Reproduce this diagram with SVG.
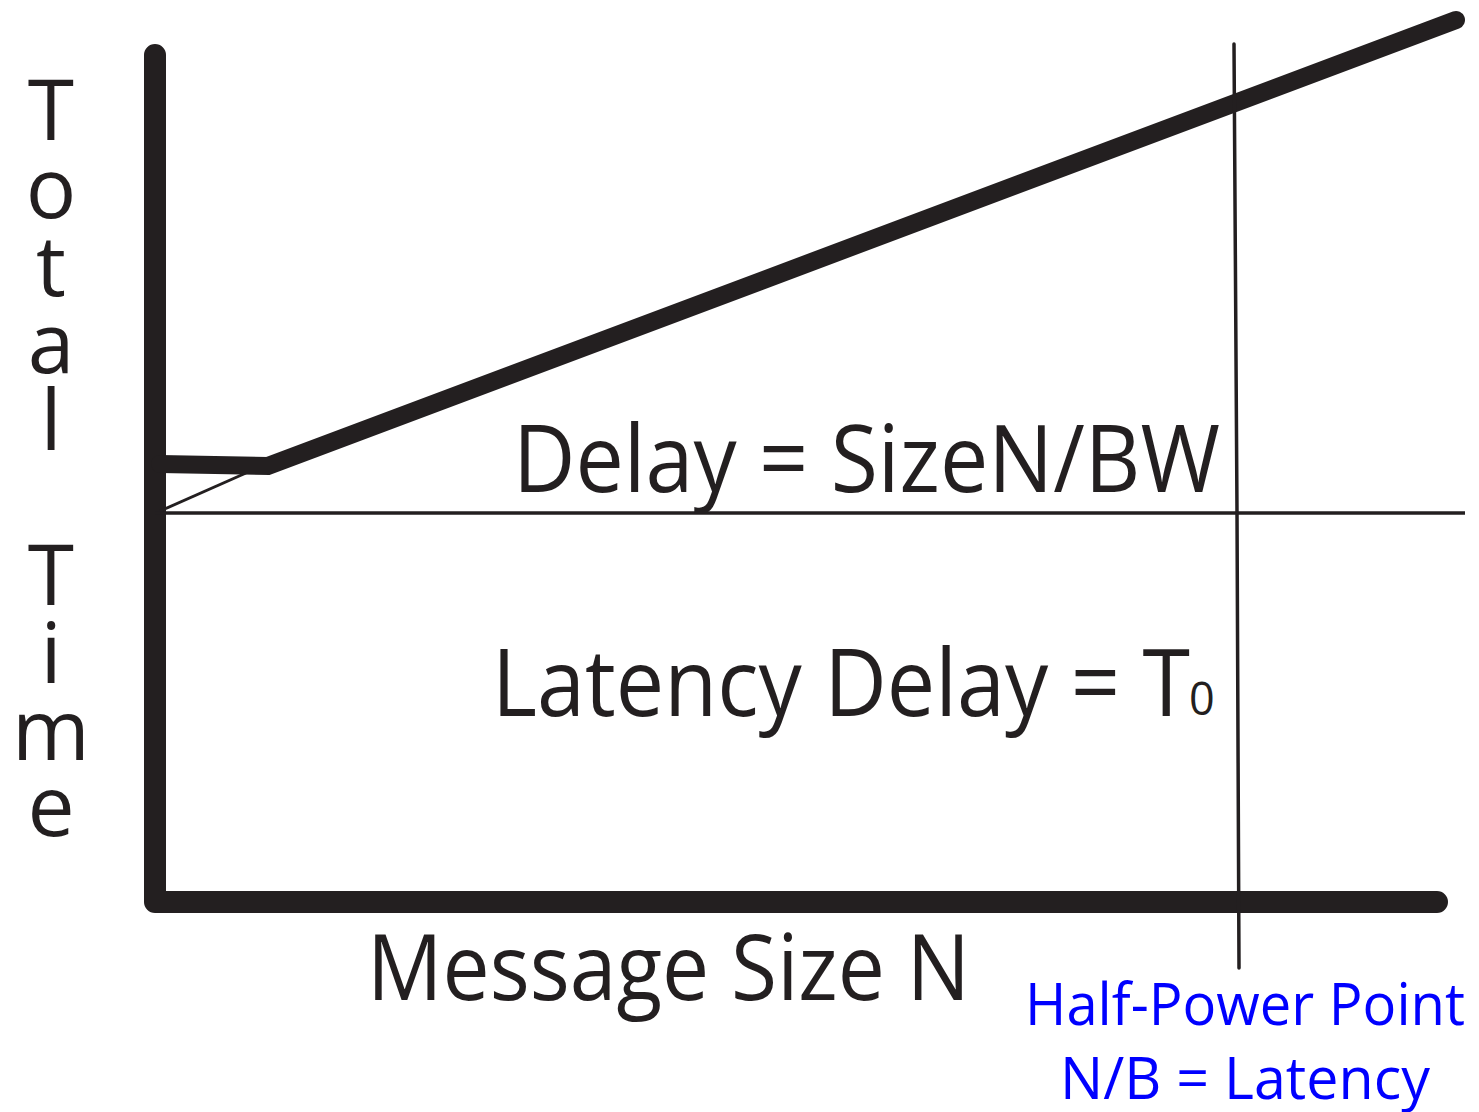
<svg xmlns="http://www.w3.org/2000/svg" width="1479" height="1112" viewBox="0 0 1479 1112">
  <style>
    .ink { fill: none; stroke: #231f20; }
    .lbl { font-family: "Open Sans", "Noto Sans", "Liberation Sans", sans-serif; fill: #231f20; }
    .axis-letter { font-family: "Open Sans", "Noto Sans", "Liberation Sans", sans-serif; fill: #231f20; font-size: 84px; text-anchor: middle; }
    .note { font-family: "Open Sans", "Noto Sans", "Liberation Sans", sans-serif; fill: #0000ff; font-size: 58px; }
  </style>
  <rect width="1479" height="1112" fill="#ffffff"/>

  <g id="connectors">
    <!-- axes -->
    <path id="axes" class="ink" d="M155,55 L155,902 L1437,902" stroke-width="22" stroke-linecap="round" stroke-linejoin="round"/>
    <!-- latency baseline -->
    <path id="latency-line" class="ink" d="M155,513 L1465,513" stroke-width="3.5"/>
    <!-- ramp from latency baseline -->
    <path id="thin-ramp" class="ink" d="M160,511 L246,473" stroke-width="3"/>
    <!-- total time curve -->
    <path id="total-curve" class="ink" d="M160,464 L268,466 L1456,20" stroke-width="18" stroke-linecap="round" stroke-linejoin="miter"/>
    <!-- half-power marker -->
    <path id="half-power-line" class="ink" d="M1234,44 L1237,513 L1239,968" stroke-width="3.5" stroke-linecap="round"/>
  </g>

  <g id="y-axis-label">
    <text class="axis-letter" x="51" y="140">T</text>
    <text class="axis-letter" x="51" y="218">o</text>
    <text class="axis-letter" x="51" y="296">t</text>
    <text class="axis-letter" x="51" y="373">a</text>
    <text class="axis-letter" x="51" y="450">l</text>
    <text class="axis-letter" x="51" y="605">T</text>
    <text class="axis-letter" x="51" y="683">i</text>
    <text class="axis-letter" x="51" y="760">m</text>
    <text class="axis-letter" x="51" y="836">e</text>
  </g>

  <g id="delay-label">
    <text class="lbl" x="513" y="492" font-size="94" textLength="707" lengthAdjust="spacingAndGlyphs">Delay = SizeN/BW</text>
  </g>

  <g id="latency-label">
    <text class="lbl" x="492" y="716" font-size="93" textLength="698" lengthAdjust="spacingAndGlyphs">Latency Delay = T</text>
    <text class="lbl" x="1189" y="715" font-size="45">0</text>
  </g>

  <g id="x-axis-label">
    <text class="lbl" x="367" y="1000" font-size="91" textLength="603" lengthAdjust="spacingAndGlyphs">Message Size N</text>
  </g>

  <g id="half-power-note">
    <text class="note" x="1025" y="1025" textLength="440" lengthAdjust="spacingAndGlyphs">Half-Power Point</text>
    <text class="note" x="1060" y="1099" textLength="370" lengthAdjust="spacingAndGlyphs">N/B = Latency</text>
  </g>
</svg>
